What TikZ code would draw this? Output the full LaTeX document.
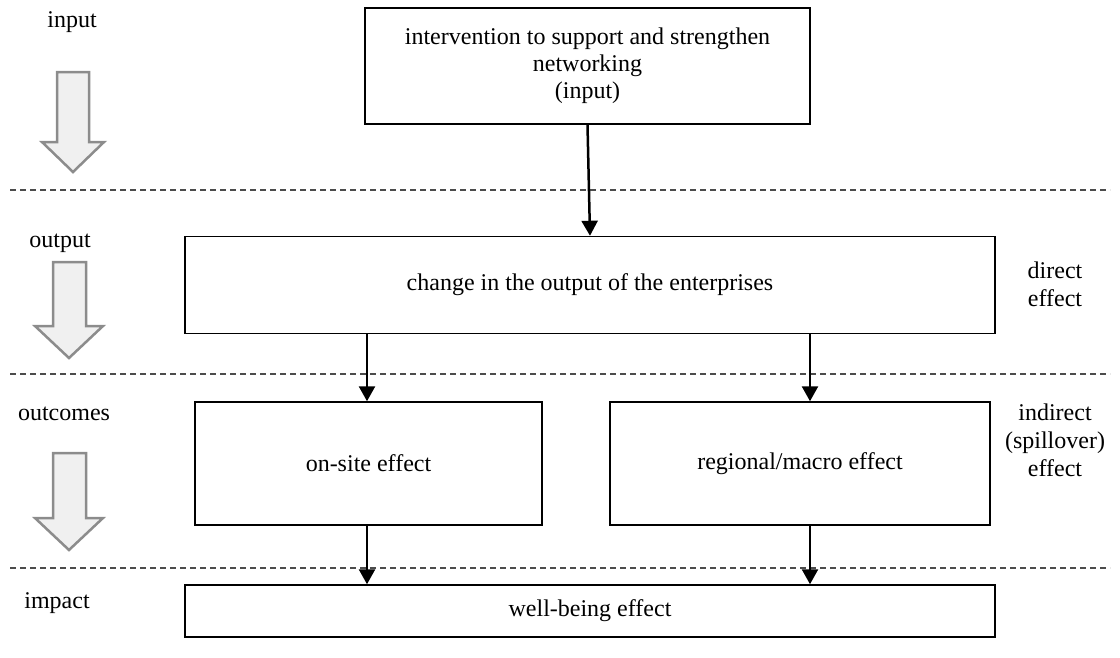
\documentclass[tikz,border=0pt]{standalone}
\usepackage{fontspec}
\setmainfont{Liberation Serif}
\usetikzlibrary{arrows.meta}
\begin{document}
\begin{tikzpicture}[x=1pt,y=-1pt,
  box/.style={draw=black, line width=1.5pt, inner sep=0pt, font=\fontsize{24}{27}\selectfont, align=center},
  lab/.style={font=\fontsize{24}{28}\selectfont, align=center, inner sep=0pt},
  conn/.style={line width=2.5pt, -{Triangle[width=16pt,length=15pt]}},
  sep/.style={draw=black!70, line width=1.2pt, dash pattern=on 6pt off 4pt},
  blk/.style={draw=black!45, fill=black!6, line width=2.5pt, line join=miter}]
\useasboundingbox (0,0) rectangle (1120,657);
% separators
\draw[sep] (10,190) -- (1110,190);
\draw[sep] (10,374) -- (1110,374);
\draw[sep] (10,568) -- (1110,568);
% block arrows
\draw[blk] (57,72) -- (89,72) -- (89,142) -- (104,142) -- (73,172) -- (42,142) -- (57,142) -- cycle;
\draw[blk] (53,262) -- (86,262) -- (86,326) -- (103,326) -- (69,358) -- (35,326) -- (53,326) -- cycle;
\draw[blk] (53,453) -- (86,453) -- (86,518) -- (103,518) -- (69,550) -- (35,518) -- (53,518) -- cycle;
% left labels
\node[lab] (Lin) at (72,22) {input};
\node[lab] (Lout) at (60,243) {output};
\node[lab] (Loc) at (64,414) {outcomes};
\node[lab] (Lim) at (57,603) {impact};
% right labels
\node[lab] (Rd) at (1055,284) {direct\\effect};
\node[lab] (Ri) at (1055,440) {indirect\\(spillover)\\effect};
% boxes
\node[box, minimum width=445pt, minimum height=116pt] (top) at (587.5,66) {intervention to support and strengthen\\networking\\(input)};
\node[box, minimum width=810pt, minimum height=97pt] (out) at (590,285) {change in the output of the enterprises};
\node[box, minimum width=347pt, minimum height=123pt] (onsite) at (368.5,463.5) {on-site effect};
\node[box, minimum width=380pt, minimum height=123pt] (reg) at (800,463.5) {regional/macro effect};
\node[box, minimum width=810pt, minimum height=52pt] (wb) at (590,611) {well-being effect};
% connectors
\coordinate (a1) at (367,0);
\coordinate (a2) at (810,0);
\draw[conn] (top.south) -- (out.north);
\draw[conn] (out.south -| a1) -- (onsite.north -| a1);
\draw[conn] (out.south -| a2) -- (reg.north -| a2);
\draw[conn] (onsite.south -| a1) -- (wb.north -| a1);
\draw[conn] (reg.south -| a2) -- (wb.north -| a2);
\end{tikzpicture}
\end{document}
